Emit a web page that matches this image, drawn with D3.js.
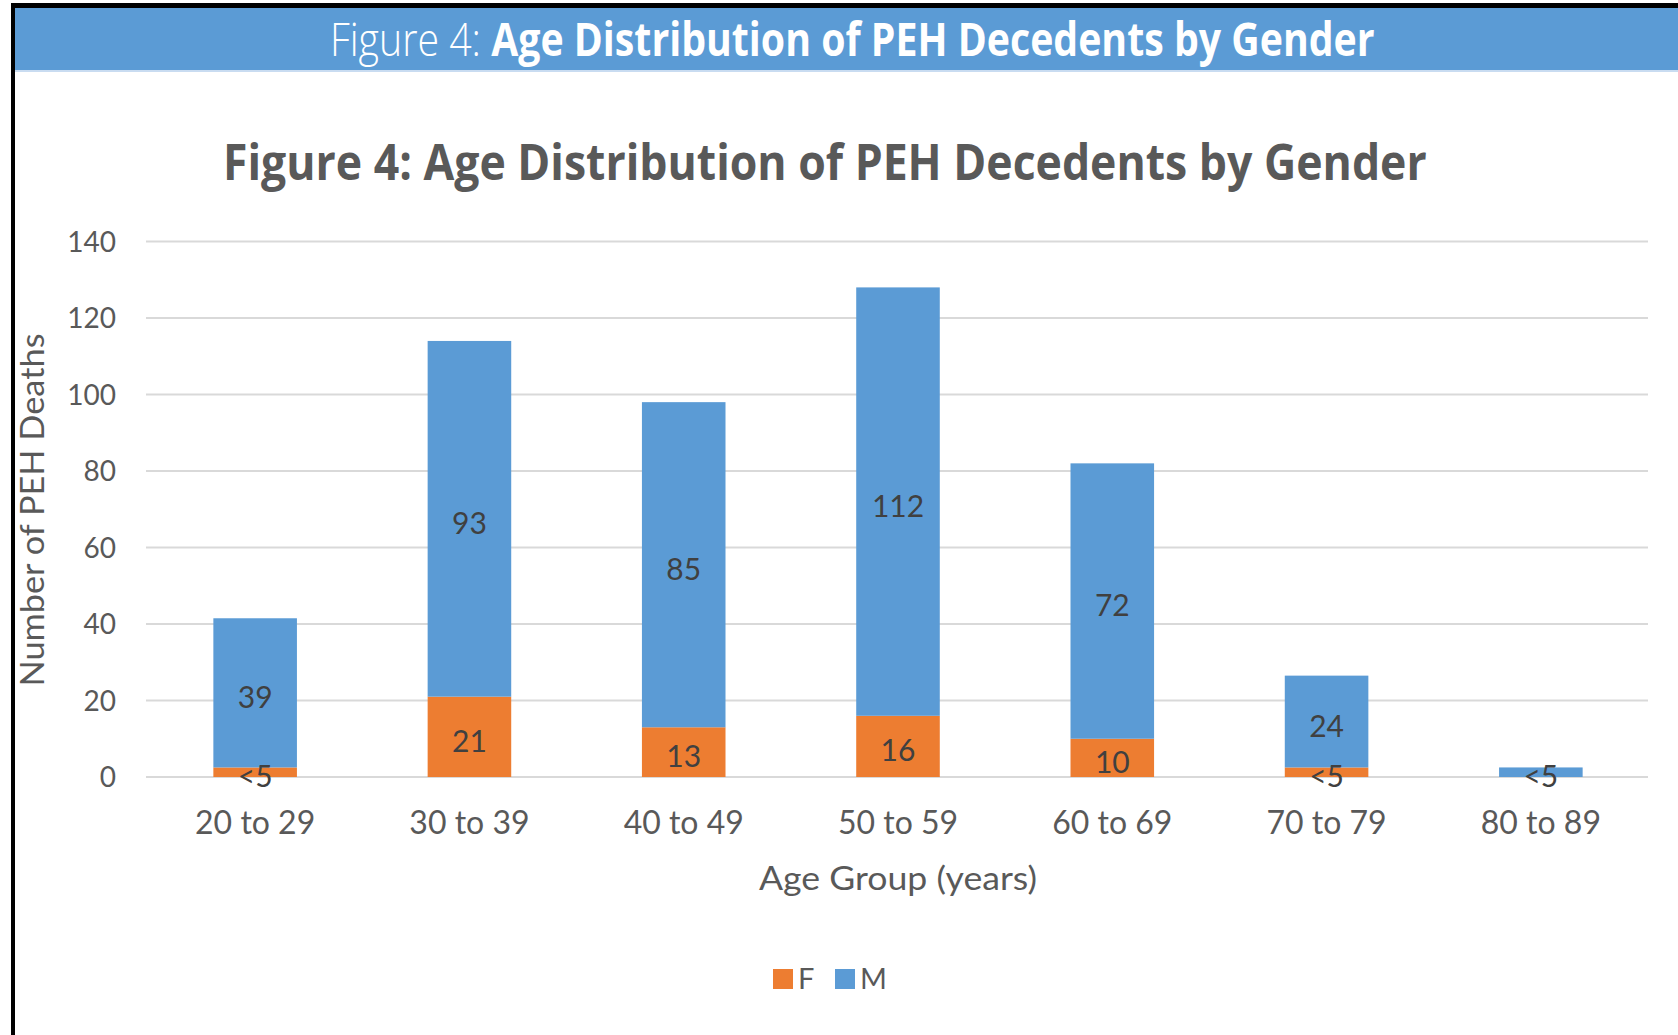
<!DOCTYPE html>
<html><head><meta charset="utf-8">
<script src="https://cdn.jsdelivr.net/npm/d3@7"></script>
<style>body{margin:0;background:#fff;} svg{display:block}</style>
</head><body>
<svg id="c" width="1678" height="1035"></svg>
<script>
const categories = ["20 to 29","30 to 39","40 to 49","50 to 59","60 to 69","70 to 79","80 to 89"];
const femaleValues = [2.5, 21, 13, 16, 10, 2.5, 0];
const maleValues   = [39, 93, 85, 112, 72, 24, 2.5];
const femaleLabels = ["<5","21","13","16","10","<5",""];
const maleLabels   = ["39","93","85","112","72","24","<5"];
const yTicks = [0, 20, 40, 60, 80, 100, 120, 140];
const seriesNames = ["F", "M"];
const seriesColors = ["#ED7D31", "#5B9BD5"];
const headerLight = "Figure 4: ";
const headerBold = "Age Distribution of PEH Decedents by Gender";
const chartTitle = "Figure 4: Age Distribution of PEH Decedents by Gender";
const yTitle = "Number of PEH Deaths";
const xTitle = "Age Group (years)";

const svg = d3.select("#c");
const W = 1678, H = 1035;

function fitWidth(sel, x0, target) {
  const w = sel.node().getComputedTextLength();
  const s = target / w;
  sel.attr("transform", `translate(${x0},0) scale(${s},1) translate(${-x0},0)`);
}

// frame
svg.append("rect").attr("x",0).attr("y",0).attr("width",W).attr("height",H).attr("fill","#fff");
svg.append("rect").attr("x",15).attr("y",8).attr("width",W-15).attr("height",62).attr("fill","#5B9BD5");
svg.append("rect").attr("x",15).attr("y",70).attr("width",W-15).attr("height",2).attr("fill","#c9dcf1");
svg.append("rect").attr("x",11).attr("y",3).attr("width",W-11).attr("height",5).attr("fill","#000");
svg.append("rect").attr("x",11).attr("y",3).attr("width",4).attr("height",H-3).attr("fill","#000");

// header text
const ht = svg.append("text").attr("x",330).attr("y",56)
  .attr("fill","#fff").style("font-family","'Open Sans', sans-serif").style("font-size","46px");
ht.append("tspan").style("font-weight","300").text(headerLight);
ht.append("tspan").style("font-weight","700").text(headerBold);
fitWidth(ht, 330, 1045);

// chart title
const ct = svg.append("text").attr("x",223).attr("y",180)
  .attr("fill","#595959").style("font-family","'Open Sans', sans-serif")
  .style("font-weight","700").style("font-size","50px").text(chartTitle);
fitWidth(ct, 223, 1204);

// scales
const x = d3.scaleBand().domain(categories).range([148,1648]).paddingInner(0.61).paddingOuter(0.305);
const y = d3.scaleLinear().domain([0,140]).range([777,241.5]);

// y axis labels
const yAxis = d3.axisLeft(y).tickValues(yTicks).tickSize(0).tickPadding(0);
const gy = svg.append("g").attr("transform","translate(116,0)").call(yAxis);
gy.select(".domain").remove();
gy.selectAll("text").attr("fill","#595959").style("font-family","Lato, sans-serif").style("font-size","28px").attr("dy","0.35em");

// gridlines
svg.append("g").selectAll("line").data(yTicks).join("line")
  .attr("x1",146).attr("x2",1648).attr("y1",d=>y(d)).attr("y2",d=>y(d))
  .attr("stroke","#d9d9d9").attr("stroke-width",2);

// stacked data
const rows = categories.map((c,i)=>({cat:c, F:femaleValues[i], M:maleValues[i]}));
const stack = d3.stack().keys(seriesNames)(rows);
const labels = {F:femaleLabels, M:maleLabels};

stack.forEach((layer, li) => {
  svg.append("g").selectAll("rect").data(layer).join("rect")
    .attr("x", d=>x(d.data.cat)).attr("width", x.bandwidth())
    .attr("y", d=>y(d[1])).attr("height", d=>Math.max(0, y(d[0])-y(d[1])))
    .attr("fill", seriesColors[li]);
});
stack.forEach((layer) => {
  const key = layer.key;
  svg.append("g").selectAll("text").data(layer).join("text")
    .attr("x", d=>x(d.data.cat)+x.bandwidth()/2)
    .attr("y", d=>(y(d[0])+y(d[1]))/2)
    .attr("dy","0.5em")
    .attr("text-anchor","middle")
    .attr("fill","#404040").style("font-family","Lato, sans-serif").style("font-size","30px")
    .text((d,i)=>labels[key][i]);
});

// x axis labels
const xAxis = d3.axisBottom(x).tickSize(0).tickPadding(0);
const gx = svg.append("g").attr("transform","translate(0,810)").call(xAxis);
gx.select(".domain").remove();
gx.selectAll("text").attr("fill","#595959").style("font-family","Lato, sans-serif").style("font-size","32px").attr("dy","0.75em");

// axis titles
svg.append("text").attr("x",898).attr("y",890).attr("text-anchor","middle")
  .attr("fill","#595959").style("font-family","Lato, sans-serif").style("font-size","33px")
  .attr("textLength",278).attr("lengthAdjust","spacingAndGlyphs").text(xTitle);
svg.append("text").attr("transform","translate(44,510) rotate(-90)").attr("text-anchor","middle")
  .attr("fill","#595959").style("font-family","Lato, sans-serif").style("font-size","33px")
  .attr("textLength",353).attr("lengthAdjust","spacingAndGlyphs").text(yTitle);

// legend
const legX = [773, 835];
const lg = svg.append("g");
seriesNames.forEach((n,i)=>{
  lg.append("rect").attr("x",legX[i]).attr("y",969).attr("width",20).attr("height",20).attr("fill",seriesColors[i]);
  lg.append("text").attr("x",legX[i]+25).attr("y",989).attr("fill","#595959")
    .style("font-family","Lato, sans-serif").style("font-size","29px").text(n);
});
</script>
</body></html>
